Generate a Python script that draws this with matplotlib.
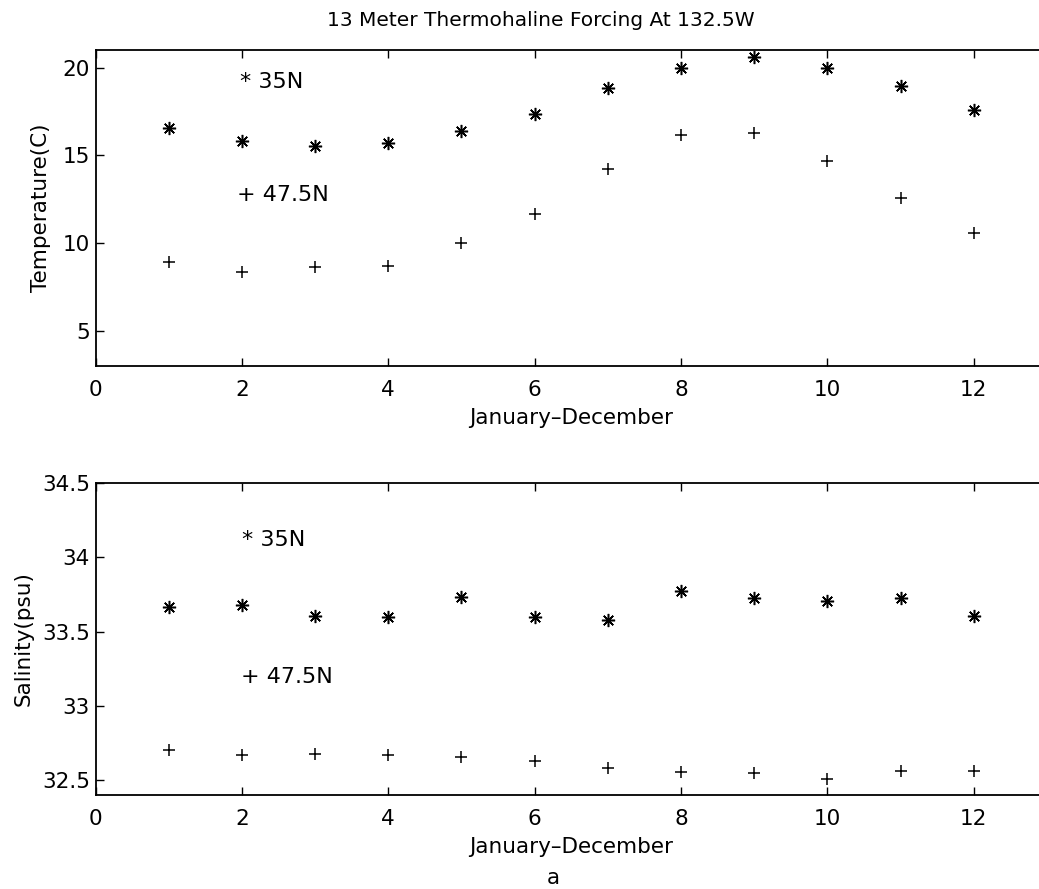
import matplotlib
matplotlib.use("Agg")
import matplotlib.pyplot as plt
from matplotlib.ticker import FuncFormatter

months = [1, 2, 3, 4, 5, 6, 7, 8, 9, 10, 11, 12]
temp_35n = [16.55, 15.84, 15.54, 15.73, 16.40, 17.35, 18.85, 19.97, 20.59, 20.0, 18.96, 17.59]
temp_475n = [8.92, 8.33, 8.63, 8.69, 9.98, 11.63, 14.21, 16.17, 16.26, 14.65, 12.56, 10.57]
sal_35n = [33.666, 33.678, 33.604, 33.600, 33.735, 33.597, 33.58, 33.774, 33.727, 33.707, 33.727, 33.604]
sal_475n = [32.70, 32.668, 32.673, 32.668, 32.656, 32.632, 32.58, 32.556, 32.549, 32.51, 32.563, 32.563]

xticks = [0, 2, 4, 6, 8, 10, 12]
temp_ticks = [5, 10, 15, 20]
sal_ticks = [32.5, 33, 33.5, 34, 34.5]

title = "13 Meter Thermohaline Forcing At 132.5W"
xlabel = "January\u2013December"

plt.rcParams['font.family'] = ['DejaVu Sans']

W, H = 1039, 889
fig = plt.figure(figsize=(W / 100, H / 100), dpi=100)

x0 = 95.5
x1 = 1047.0
ax1 = fig.add_axes([x0 / W, (H - 366) / H, (x1 - x0) / W, 316 / H])
ax2 = fig.add_axes([x0 / W, (H - 795) / H, (x1 - x0) / W, 312 / H])

ast = (8, 2, 0)
for ax in (ax1, ax2):
    ax.set_xlim(0, 13)
    ax.set_xticks(xticks)
    ax.tick_params(direction='in', top=True, right=True, length=5.5, width=1.0,
                   labelsize=15.5, colors='black')
    ax.tick_params(axis='x', pad=10)
    ax.tick_params(axis='y', pad=4)
    for s in ax.spines.values():
        s.set_linewidth(1.3)
    ax.set_xlabel(xlabel, fontsize=15.5, labelpad=6)

ax1.plot(months, temp_35n, linestyle='none', marker=ast, ms=9.5, mew=1.1, color='black')
ax1.plot(months, temp_475n, linestyle='none', marker='+', ms=8, mew=1.1, color='black')
ax1.set_ylim(3, 21)
ax1.set_yticks(temp_ticks)
ax1.set_ylabel("Temperature(C)", fontsize=15.5, labelpad=8)
ax1.text(1.97, 19.2, "* 35N", fontsize=16, ha='left', va='center')
ax1.text(1.93, 12.75, "+ 47.5N", fontsize=16, ha='left', va='center')

ax2.plot(months, sal_35n, linestyle='none', marker=ast, ms=9.5, mew=1.1, color='black')
ax2.plot(months, sal_475n, linestyle='none', marker='+', ms=8, mew=1.1, color='black')
ax2.set_ylim(32.4, 34.5)
ax2.set_yticks(sal_ticks)
ax2.yaxis.set_major_formatter(FuncFormatter(lambda v, p: "%g" % v))
ax2.set_ylabel("Salinity(psu)", fontsize=15.5, labelpad=6)
ax2.text(2.0, 34.115, "* 35N", fontsize=16, ha='left', va='center')
ax2.text(1.99, 33.195, "+ 47.5N", fontsize=16, ha='left', va='center')

fig.text(541 / W, 1 - 21 / H, title, fontsize=14.5, ha='center', va='center')
fig.text(553 / W, 1 - 878 / H, "a", fontsize=15.5, ha='center', va='center')

fig.savefig("out.png", dpi=100)
